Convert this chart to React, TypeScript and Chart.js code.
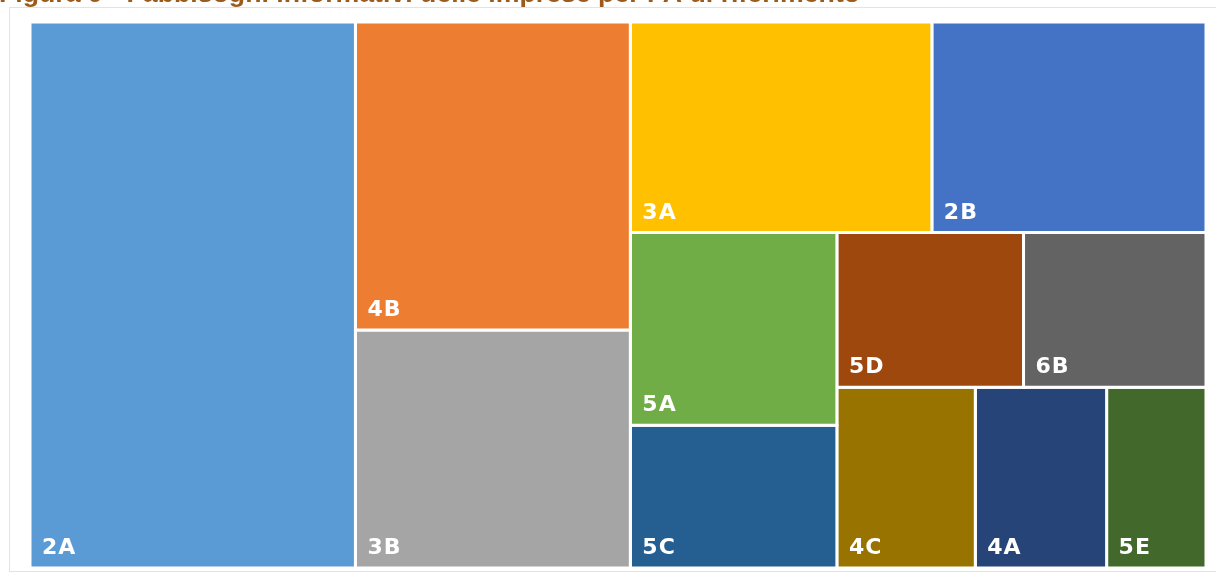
import React, { useEffect, useRef } from "react";
import { Chart, registerables } from "chart.js";

Chart.register(...registerables);

const TITLE = "Figura 9 - Fabbisogni informativi delle imprese per PA di riferimento";

// Treemap tiles (share of enterprises, %), in descending order
const categories = ["2A", "4B", "3B", "3A", "2B", "5A", "5C", "5D", "6B", "4C", "4A", "5E"];
const values = [27.7, 13.2, 10.2, 9.9, 9.0, 6.2, 4.6, 4.5, 4.4, 3.9, 3.7, 2.8];
const colors = [
  "#5B9BD5", "#ED7D31", "#A5A5A5", "#FFC000", "#4472C4", "#70AD47",
  "#255E91", "#9E480E", "#636363", "#997300", "#264478", "#43682B",
];

// Strip structure of the treemap layout: tiles per strip and strip orientation
const stripSizes = [1, 2, 2, 2, 2, 3];
const stripDirs = ["col", "col", "row", "col", "row", "row"];

// layout space (same aspect as the plot area)
const LW = 1176;
const LH = 546;

type Rect = { x0: number; x1: number; y0: number; y1: number };

function computeLayout(vals: number[], w: number, h: number): Rect[] {
  const total = vals.reduce((a, b) => a + b, 0);
  const areas = vals.map((v) => (v / total) * w * h);
  let x = 0;
  let y = 0;
  let rw = w;
  let rh = h;
  let i = 0;
  const rects: Rect[] = [];
  stripSizes.forEach((n, s) => {
    const group = areas.slice(i, i + n);
    const sum = group.reduce((a, b) => a + b, 0);
    if (stripDirs[s] === "col") {
      const sw = sum / rh;
      let yy = y;
      group.forEach((a) => {
        const hh = a / sw;
        rects.push({ x0: x, x1: x + sw, y0: yy, y1: yy + hh });
        yy += hh;
      });
      x += sw;
      rw -= sw;
    } else {
      const sh = sum / rw;
      let xx = x;
      group.forEach((a) => {
        const ww = a / sh;
        rects.push({ x0: xx, x1: xx + ww, y0: y, y1: y + sh });
        xx += ww;
      });
      y += sh;
      rh -= sh;
    }
    i += n;
  });
  return rects;
}

const decorPlugin = {
  id: "decor",
  beforeDraw(chart: any) {
    const { ctx, chartArea, width, height } = chart;
    ctx.save();
    ctx.fillStyle = "#ffffff";
    ctx.fillRect(0, 0, width, height);
    // light frame around the figure
    ctx.strokeStyle = "#e3e3e3";
    ctx.lineWidth = 1;
    ctx.strokeRect(chartArea.left - 20.5, chartArea.top - 14.5, width + 40, chartArea.bottom - chartArea.top + 18);
    // title (partly cut by the top edge)
    ctx.fillStyle = "#9A5B1C";
    ctx.font = 'bold 26.7px "Liberation Sans", Arial, sans-serif';
    ctx.textBaseline = "alphabetic";
    ctx.textAlign = "left";
    ctx.fillText(TITLE, -1, chartArea.top - 20);
    ctx.restore();
  },
};

const labelPlugin = {
  id: "tileLabels",
  afterDatasetsDraw(chart: any) {
    const { ctx } = chart;
    const xs = chart.scales.x;
    const ys = chart.scales.y;
    ctx.save();
    ctx.fillStyle = "#ffffff";
    ctx.font = 'bold 22px "DejaVu Sans", sans-serif';
    (ctx as any).letterSpacing = "1px";
    ctx.textBaseline = "alphabetic";
    ctx.textAlign = "left";
    chart.data.datasets.forEach((ds: any) => {
      const px = ds.data.map((p: any) => p.x);
      const py = ds.data.map((p: any) => p.y);
      const left = xs.getPixelForValue(Math.min(...px));
      const bottom = ys.getPixelForValue(Math.max(...py));
      ctx.fillText(ds.label, left + 12, bottom - 14);
    });
    ctx.restore();
  },
};

export default function App() {
  const canvasRef = useRef<HTMLCanvasElement | null>(null);

  useEffect(() => {
    if (!canvasRef.current) return;
    const rects = computeLayout(values, LW, LH);
    const datasets = rects.map((r, i) => ({
      label: categories[i],
      data: [
        { x: r.x0, y: r.y0 },
        { x: r.x1, y: r.y0 },
        { x: r.x1, y: r.y1 },
        { x: r.x0, y: r.y1 },
        { x: r.x0, y: r.y0 },
      ],
      fill: "shape",
      backgroundColor: colors[i],
      borderColor: "#ffffff",
      borderWidth: 3,
      borderJoinStyle: "miter",
      borderCapStyle: "square",
      pointRadius: 0,
      pointHoverRadius: 0,
      tension: 0,
    }));
    const chart = new Chart(canvasRef.current, {
      type: "line",
      data: { datasets: datasets as any },
      options: {
        animation: false,
        responsive: true,
        maintainAspectRatio: false,
        layout: { padding: { left: 30, right: 10, top: 46, bottom: 8 } },
        scales: {
          x: { type: "linear", min: 0, max: LW, display: false },
          y: { type: "linear", min: 0, max: LH, reverse: true, display: false },
        },
        plugins: {
          legend: { display: false },
          tooltip: { enabled: false },
          title: { display: false },
        },
        events: [],
      },
      plugins: [decorPlugin, labelPlugin],
    });
    return () => chart.destroy();
  }, []);

  return (
    <div style={{ position: "absolute", left: 0, top: -24, width: 1216, height: 600 }}>
      <canvas ref={canvasRef} style={{ width: "100%", height: "100%" }} />
    </div>
  );
}
